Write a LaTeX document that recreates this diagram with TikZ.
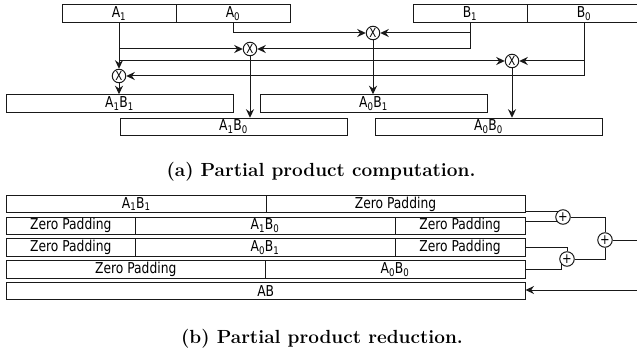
\documentclass[tikz,border=0pt]{standalone}
\usepackage{fontspec}
\newfontfamily\boxfont{DejaVu Sans}[FakeStretch=0.82]
\usetikzlibrary{arrows.meta,backgrounds,calc}
\newcommand{\ix}[1]{\textsubscript{#1}}
\tikzset{
  >={Stealth[length=8.5pt,width=8pt]},
  cell/.style={draw=black!90,line width=1pt,minimum height=17.5pt,
    inner sep=0pt,font=\boxfont\fontsize{15}{17}\selectfont},
  mul/.style={circle,draw=black!90,fill=white,line width=1pt,
    minimum size=13.5pt,inner sep=0pt,font=\boxfont\fontsize{12.5}{12.5}\selectfont},
  addr/.style={mul,minimum size=14.5pt,font=\boxfont\fontsize{14}{14}\selectfont},
  wire/.style={black!90,line width=1pt},
  warr/.style={wire,->},
  capt/.style={font=\fontsize{19}{22}\selectfont\bfseries,anchor=base},
}
\begin{document}
\begin{tikzpicture}[x=1pt,y=-1pt]
  \useasboundingbox (0,0) rectangle (637,350);
  % operands
  \node[cell,minimum width=114pt] (a1) at (119,13.5) {A\ix{1}};
  \node[cell,minimum width=114pt] (a0) at (233,13.5) {A\ix{0}};
  \node[cell,minimum width=114pt] (b1) at (470,13.5) {B\ix{1}};
  \node[cell,minimum width=114pt] (b0) at (584,13.5) {B\ix{0}};
  \node[mul] (m1) at (119,76) {X};
  \node[mul] (m2) at (250,49) {X};
  \node[mul] (m3) at (373,33) {X};
  \node[mul] (m4) at (512,61) {X};
  \node[cell,minimum width=227pt] (a1b1) at (119.5,103.5) {A\ix{1}B\ix{1}};
  \node[cell,minimum width=227pt] (a0b1) at (373.5,103.5) {A\ix{0}B\ix{1}};
  \node[cell,minimum width=227pt] (a1b0) at (233.5,127) {A\ix{1}B\ix{0}};
  \node[cell,minimum width=227pt] (a0b0) at (488.5,127) {A\ix{0}B\ix{0}};
  \begin{scope}[on background layer]
    \draw[warr] (a1) -- (m1);
    \draw[warr] (a1.south |- m2) -- (m2);
    \draw[warr] (a1.south |- m4) -- (m4);
    \draw[warr] (a0) |- (m3);
    \draw[warr] (b1) |- (m2);
    \draw[warr] (b1.south |- m3) -- (m3);
    \draw[warr] (b0) |- (m1);
    \draw[warr] (b0.south |- m4) -- (m4);
    \draw[warr] (m1) -- (m1 |- a1b1.north);
    \draw[warr] (m2) -- (m2 |- a1b0.north);
    \draw[warr] (m3) -- (m3 |- a0b1.north);
    \draw[warr] (m4) -- (m4 |- a0b0.north);
  \end{scope}
  \node[capt] (capa) at (321,176) {(a) Partial product computation.};
  % reduction
  \node[cell,minimum width=259.5pt] (r1a) at (136.25,204) {A\ix{1}B\ix{1}};
  \node[cell,minimum width=259pt] (r1b) at (395.5,204) {Zero Padding};
  \node[cell,minimum width=128.5pt] (r2a) at (70.75,225.75) {Zero Padding};
  \node[cell,minimum width=260pt] (r2b) at (265,225.75) {A\ix{1}B\ix{0}};
  \node[cell,minimum width=130pt] (r2c) at (460,225.75) {Zero Padding};
  \node[cell,minimum width=128.5pt] (r3a) at (70.75,247.5) {Zero Padding};
  \node[cell,minimum width=260pt] (r3b) at (265,247.5) {A\ix{0}B\ix{1}};
  \node[cell,minimum width=130pt] (r3c) at (460,247.5) {Zero Padding};
  \node[cell,minimum width=258.5pt] (r4a) at (135.75,269.25) {Zero Padding};
  \node[cell,minimum width=260pt] (r4b) at (395,269.25) {A\ix{0}B\ix{0}};
  \node[cell,minimum width=518.5pt] (r5) at (265.75,291) {AB};
  \node[addr] (ad1) at (563,217) {+};
  \node[addr] (ad2) at (567,259) {+};
  \node[addr] (ad3) at (605,240) {+};
  \coordinate (sum) at (640,240);
  \coordinate (back) at (640,290);
  \begin{scope}[on background layer]
    \draw[wire] ([yshift=-7pt]r1b.east) -- ([yshift=-7pt]r1b.east -| ad1);
    \draw[wire] ([yshift=4pt]r2c.east) -- ([yshift=4pt]r2c.east -| ad1);
    \draw[wire] (r3c.east) -| (ad2);
    \draw[wire] (r4b.east) -| (ad2.south west);
    \draw[wire] (ad1) -| (ad3);
    \draw[wire] (ad2) -| (ad3);
    \draw[wire] (ad3) -- (sum);
  \end{scope}
  \draw[warr] (back) -- (back -| r5.east);
  \node[capt] (capb) at (322,343) {(b) Partial product reduction.};
\end{tikzpicture}
\end{document}
